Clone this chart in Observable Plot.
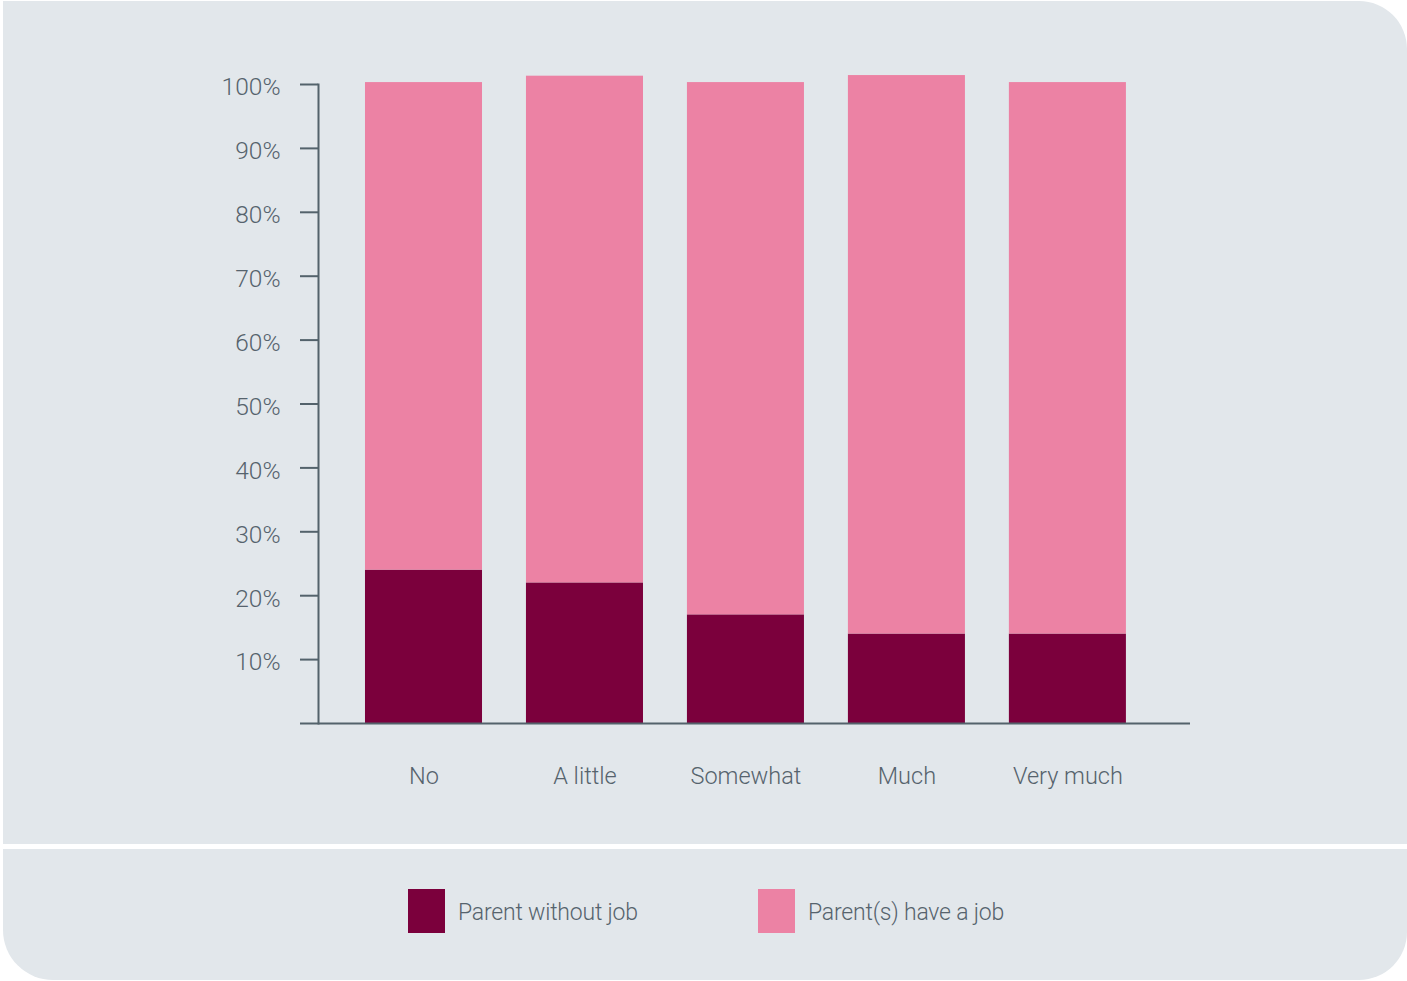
<!DOCTYPE html>
<html>
<head>
<meta charset="utf-8">
<script src="https://cdn.jsdelivr.net/npm/d3@7"></script>
<script src="https://cdn.jsdelivr.net/npm/@observablehq/plot@0.6"></script>
<style>
  html, body { margin: 0; padding: 0; background: #ffffff; }
  #wrap { position: relative; width: 1407px; height: 981px; overflow: hidden; font-family: Roboto, "Noto Sans", sans-serif; }
  .panel { position: absolute; background: #e2e7eb; }
  #top { left: 3px; top: 1px; width: 1404px; height: 843px; border-top-right-radius: 48px; }
  #bottom { left: 3px; top: 849px; width: 1404px; height: 131px; border-bottom-left-radius: 50px; border-bottom-right-radius: 48px; }
  #chart { position: absolute; left: 0; top: 0; }
  .legend-item { position: absolute; top: 889px; height: 44px; display: flex; align-items: center; }
  .swatch { width: 37px; height: 44px; margin-right: 13px; }
  .legend-label { font-size: 23px; font-weight: 300; color: #56636d; letter-spacing: -0.2px; position: relative; top: 1px; }
</style>
</head>
<body>
<div id="wrap">
  <div class="panel" id="top"></div>
  <div class="panel" id="bottom"></div>
  <div id="chart"></div>
  <div id="legend"></div>
</div>
<script>
const categories = ["No", "A little", "Somewhat", "Much", "Very much"];
const seriesNames = ["Parent without job", "Parent(s) have a job"];
const withoutJob = [24, 22, 17, 14, 14];
const haveJob = [76.3, 79.3, 83.3, 87.4, 86.3];
const yTicks = [0, 10, 20, 30, 40, 50, 60, 70, 80, 90, 100];
const seriesColors = ["#7b003c", "#ec82a4"];

const axisColor = "#53626b";
const textColor = "#56636d";

const data = [];
categories.forEach((c, i) => {
  data.push({category: c, series: seriesNames[0], value: withoutJob[i]});
  data.push({category: c, series: seriesNames[1], value: haveJob[i]});
});

const chart = Plot.plot({
  width: 1407,
  height: 845,
  marginLeft: 318,
  marginRight: 217,
  marginTop: 84,
  marginBottom: 122,
  style: {background: "transparent", fontFamily: "Roboto, 'Noto Sans', sans-serif", fontSize: "24px", color: textColor, fontWeight: 300},
  x: {domain: categories, paddingInner: 0.273, paddingOuter: 0.345, align: 0.423, round: false, label: null},
  y: {domain: [0, 100], label: null},
  color: {domain: seriesNames, range: seriesColors},
  marks: [
    Plot.barY(data, {x: "category", y: "value", fill: "series", order: seriesNames}),
    Plot.axisY({ticks: yTicks, tickSize: 18, tickFormat: () => "", stroke: axisColor, strokeWidth: 2}),
    Plot.axisY({ticks: yTicks.filter(d => d > 0), tickSize: 0, tickPadding: 38, dy: 3, tickFormat: d => d + "%", fill: textColor, fontSize: 24.5}),
    Plot.axisX({tickSize: 0, tickPadding: 44, fill: textColor, fontSize: 23.5}),
    Plot.frame({anchor: "left", stroke: axisColor, strokeWidth: 2}),
    Plot.ruleY([0], {stroke: axisColor, strokeWidth: 2})
  ]
});
document.getElementById("chart").appendChild(chart);

const legend = document.getElementById("legend");
const legendLeft = [408, 758];
seriesNames.forEach((name, i) => {
  const item = document.createElement("div");
  item.className = "legend-item";
  item.style.left = legendLeft[i] + "px";
  const sw = document.createElement("div");
  sw.className = "swatch";
  sw.style.background = seriesColors[i];
  const lab = document.createElement("span");
  lab.className = "legend-label";
  lab.textContent = name;
  item.appendChild(sw);
  item.appendChild(lab);
  legend.appendChild(item);
});
</script>
</body>
</html>
